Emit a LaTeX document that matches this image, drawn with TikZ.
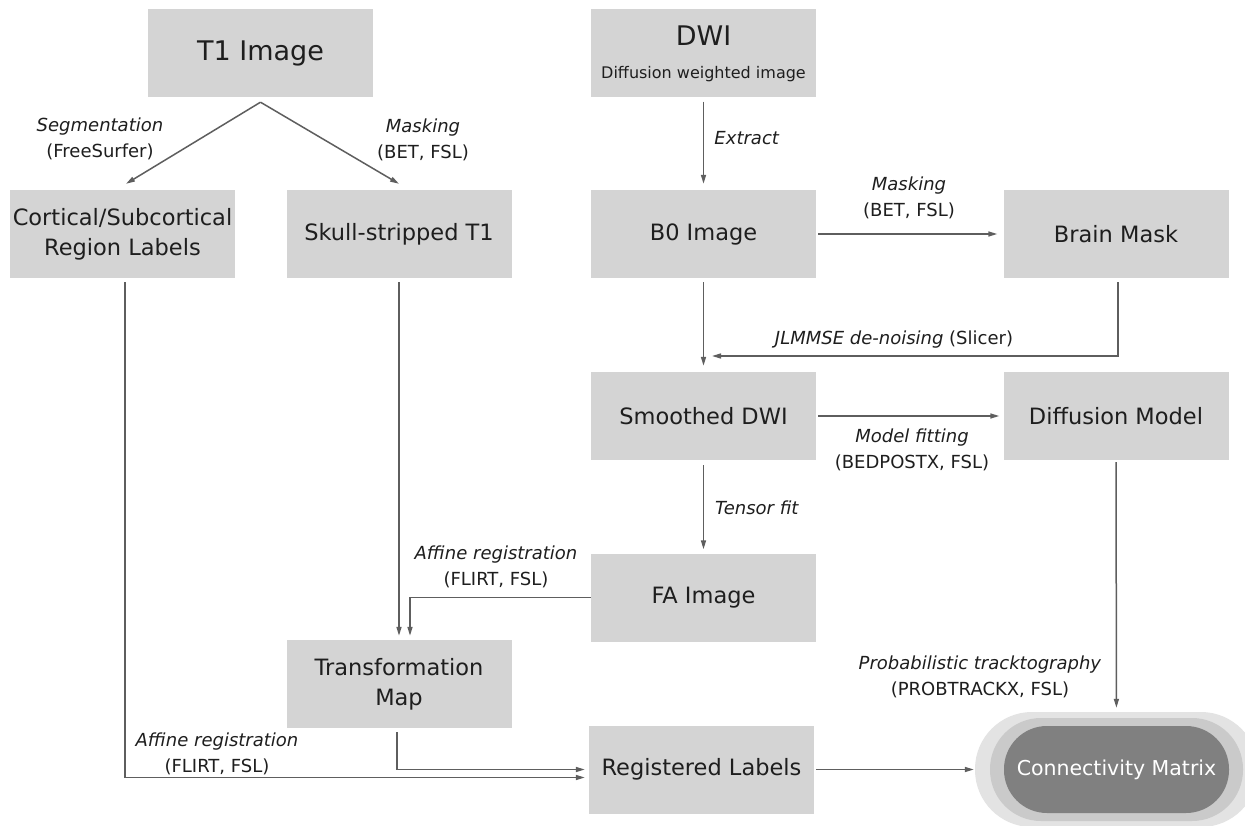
\documentclass[tikz,border=0pt]{standalone}
\usepackage{fontspec}
\setmainfont{DejaVu Sans}
\usetikzlibrary{arrows.meta}

\definecolor{boxgray}{HTML}{D4D4D4}
\definecolor{linegray}{HTML}{5E5E5E}
\definecolor{textgray}{HTML}{1E1E1E}
\definecolor{matgray}{HTML}{808080}
\definecolor{ringmid}{HTML}{CACACA}
\definecolor{ringout}{HTML}{E3E3E3}

\tikzset{
  stage/.style={fill=boxgray, minimum width=225pt, minimum height=88pt,
    inner sep=0pt, align=center, text=textgray,
    font=\fontsize{22.5}{30}\selectfont},
  flow/.style={draw=linegray, line width=1.5pt,
    -{Triangle[length=9pt,width=5pt]}},
  note/.style={align=center, text=textgray,
    font=\fontsize{18}{26}\selectfont},
}

\begin{document}
\begin{tikzpicture}[x=1pt,y=-1pt]
  \useasboundingbox (0,0) rectangle (1245,826);
  \clip (0,0) rectangle (1245,826);
  \fill[white] (0,0) rectangle (1245,826);

  % T1 branch
  \node[stage, font=\fontsize{27}{32}\selectfont] (t1) at (260.5,53) {T1 Image};
  \node[stage] (cort) at (122.5,234) {Cortical/Subcortical\\Region Labels};
  \node[stage] (skull) at (399,234) {Skull-stripped T1};
  \node[stage] (tmap) at (399,684) {Transformation\\Map};

  % DWI branch
  \node[stage] (dwi) at (703.5,53.5) {{\fontsize{27}{30}\selectfont DWI}\\[3pt]
    {\fontsize{16}{18}\selectfont Diffusion weighted image}};
  \node[stage] (bzero) at (703.5,234) {B0 Image};
  \node[stage] (mask) at (1116,234) {Brain Mask};
  \node[stage] (smooth) at (703.5,416) {Smoothed DWI};
  \node[stage] (dmodel) at (1116,416) {Diffusion Model};
  \node[stage] (fa) at (703.5,597.5) {FA Image};
  \node[stage] (reg) at (701.5,769.5) {Registered Labels};

  % output
  \node[fill=ringout, minimum width=283pt, minimum height=115pt, inner sep=0pt,
    rounded corners=57pt] (connout) at (1116.5,769.5) {};
  \node[fill=ringmid, minimum width=253pt, minimum height=103pt, inner sep=0pt,
    rounded corners=51pt] (connmid) at (1116.5,769.5) {};
  \node[stage, fill=matgray, text=white, minimum height=87pt, rounded corners=43pt,
    font=\fontsize{20.5}{24}\selectfont] (conn) at (1116.5,769.5) {Connectivity Matrix};

  % connectors
  \draw[flow] ([yshift=-5pt]t1.south) -- ([xshift=3.5pt,yshift=6pt]cort.north);
  \draw[flow] ([yshift=-5pt]t1.south) -- ([yshift=6pt]skull.north);
  \draw[flow, shorten <=4pt, shorten >=6pt] (dwi) -- (bzero);
  \draw[flow, shorten <=2pt, shorten >=6pt] (bzero) -- (mask);
  \draw[flow, shorten <=4pt, shorten >=6pt] (bzero) -- (smooth);
  \coordinate (dnjoin) at (712,356);
  \draw[flow] ([xshift=2pt,yshift=-4pt]mask.south) |- (dnjoin);
  \draw[flow, shorten <=2pt, shorten >=4pt] (smooth) -- (dmodel);
  \draw[flow, shorten <=5pt, shorten >=4pt] (smooth) -- (fa);
  \draw[flow, shorten <=4pt, shorten >=4pt] (skull) -- (tmap);
  \draw[flow, shorten >=4pt] (fa.west) -| ([xshift=11pt]tmap.north);
  \draw[flow, shorten <=2pt, shorten >=4pt] (dmodel) -- (connout);
  \draw[flow, shorten >=4pt] ([xshift=-2pt,yshift=-4pt]tmap.south) |- (reg.west);
  \draw[flow, shorten >=4pt] ([xshift=2.5pt,yshift=-4pt]cort.south) |- ([yshift=-8pt]reg.west);
  \draw[flow, shorten <=2pt, shorten >=1pt] (reg) -- (connout);

  % labels
  \node[note] (lseg) at (100,139) {\textit{Segmentation}\\(FreeSurfer)};
  \node[note] (lmask) at (423,140) {\textit{Masking}\\(BET, FSL)};
  \node[note] (lext) at (747,138) {\textit{Extract}};
  \node[note] (lbet) at (909,198) {\textit{Masking}\\(BET, FSL)};
  \node[note] (ldenoise) at (894,340) {\textit{JLMMSE de-noising} (Slicer)};
  \node[note] (lfit) at (912,450) {\textit{Model fitting}\\(BEDPOSTX, FSL)};
  \node[note] (ltensor) at (757,508) {\textit{Tensor fit}};
  \node[note] (lfa) at (496,567) {\textit{Affine registration}\\(FLIRT, FSL)};
  \node[note] (lreg) at (217,754) {\textit{Affine registration}\\(FLIRT, FSL)};
  \node[note] (ltrack) at (980,677) {\textit{Probabilistic tracktography}\\(PROBTRACKX, FSL)};
\end{tikzpicture}
\end{document}
